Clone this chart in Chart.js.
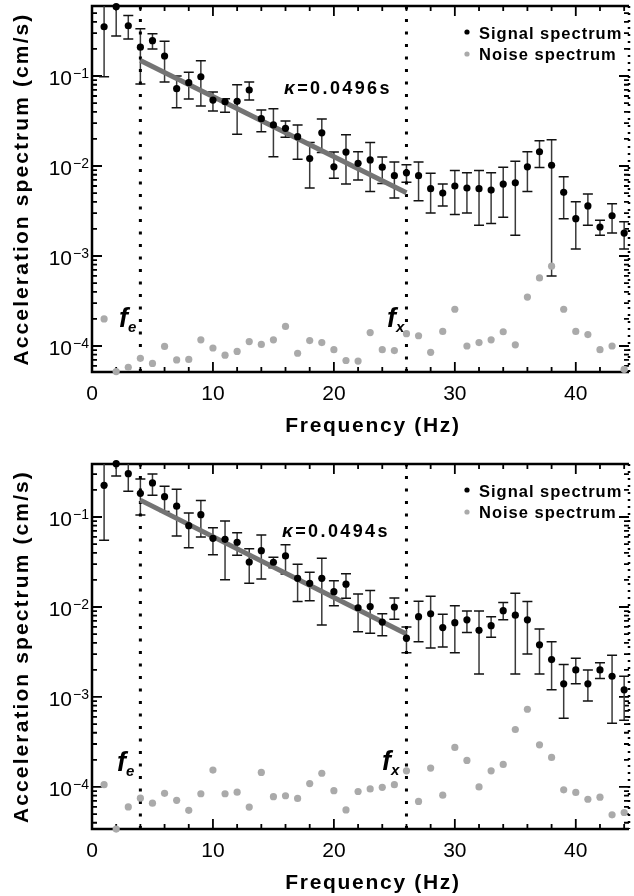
<!DOCTYPE html>
<html>
<head>
<meta charset="utf-8">
<script src="https://cdn.jsdelivr.net/npm/chart.js@4.4.1/dist/chart.umd.min.js"></script>
<style>
  body { margin: 0; background: #fff; }
  canvas { display: block; }
</style>
</head>
<body>
<canvas id="topChart" width="634" height="442"></canvas>
<canvas id="bottomChart" width="634" height="454"></canvas>
<script>
// frequencies (Hz)
const freqs = [1, 2, 3, 4, 5, 6, 7, 8, 9, 10, 11, 12, 13, 14, 15, 16, 17, 18, 19, 20, 21, 22,
  23, 24, 25, 26, 27, 28, 29, 30, 31, 32, 33, 34, 35, 36, 37, 38, 39, 40, 41, 42, 43, 44];

const xTicks = [0, 10, 20, 30, 40];
const yTicks = [1e-4, 1e-3, 1e-2, 1e-1];
const yTickExp = ['\u22124', '\u22123', '\u22122', '\u22121'];
const cutoffs = [4, 26];
const cutoffNames = ['e', 'x'];
const fitFreqs = [4, 26];

// upper panel
const topSignal = [0.353, 0.589, 0.362, 0.209, 0.247, 0.167, 0.0723, 0.0843, 0.0982, 0.0541, 0.0518,
  0.0524, 0.0699, 0.0336, 0.0286, 0.0262, 0.0212, 0.0121, 0.0234, 0.0098, 0.0143, 0.0107, 0.0117,
  0.0097, 0.0078, 0.0084, 0.0078, 0.0056, 0.0050, 0.0060, 0.0057, 0.0056, 0.0054, 0.0063, 0.0065,
  0.0098, 0.0144, 0.0102, 0.0051, 0.0026, 0.0036, 0.0021, 0.0028, 0.0018];
const topSignalHi = [1.5, 1.5, 0.472, 0.336, 0.295, 0.243, 0.1, 0.11, 0.148, 0.0664, 0.056, 0.08,
  0.0858, 0.0419, 0.0433, 0.0316, 0.0286, 0.0182, 0.0333, 0.0143, 0.0223, 0.0144, 0.0182, 0.0126,
  0.0111, 0.0103, 0.0111, 0.0083, 0.0063, 0.0089, 0.0084, 0.0089, 0.0084, 0.0097, 0.0113, 0.0144,
  0.0191, 0.0196, 0.0076, 0.0040, 0.0049, 0.0025, 0.0038, 0.0024];
const topSignalLo = [0.098, 0.278, 0.258, 0.0815, 0.2, 0.0858, 0.0445, 0.0555, 0.0464, 0.0408, 0.0395,
  0.0225, 0.0541, 0.024, 0.0127, 0.0209, 0.0119, 0.0057, 0.0141, 0.0073, 0.0063, 0.0070, 0.0052,
  0.0064, 0.0044, 0.0066, 0.0041, 0.0030, 0.0036, 0.0029, 0.0030, 0.0022, 0.0023, 0.0027, 0.0017,
  0.0052, 0.0096, 0.0006, 0.0026, 0.0012, 0.0022, 0.0017, 0.0018, 0.0012];
const topNoise = [2.0e-4, 5.2e-5, 5.8e-5, 7.3e-5, 6.4e-5, 9.9e-5, 7.0e-5, 7.1e-5, 1.17e-4, 9.5e-5,
  7.9e-5, 8.7e-5, 1.12e-4, 1.04e-4, 1.17e-4, 1.65e-4, 8.3e-5, 1.15e-4, 1.09e-4, 9.1e-5, 6.9e-5,
  6.8e-5, 1.41e-4, 9.1e-5, 8.9e-5, 1.37e-4, 1.30e-4, 8.5e-5, 1.45e-4, 2.56e-4, 1.0e-4, 1.09e-4,
  1.17e-4, 1.44e-4, 1.03e-4, 3.5e-4, 5.7e-4, 7.7e-4, 2.56e-4, 1.45e-4, 1.34e-4, 9.1e-5, 1.0e-4, 5.5e-5];
const topFit = [0.149, 0.00505];

// lower panel
const bottomSignal = [0.225, 0.391, 0.303, 0.183, 0.239, 0.168, 0.132, 0.080, 0.106, 0.058, 0.0565,
  0.0524, 0.0316, 0.0422, 0.0314, 0.0369, 0.0208, 0.0183, 0.0208, 0.0148, 0.0179, 0.0098, 0.0101,
  0.0068, 0.0100, 0.0045, 0.0078, 0.0084, 0.0059, 0.0067, 0.0072, 0.0055, 0.0062, 0.0091, 0.0081,
  0.0072, 0.0038, 0.0026, 0.0014, 0.0020, 0.0014, 0.0020, 0.0017, 0.0012];
const bottomSignalHi = [1.0, 1.0, 0.5, 0.264, 0.301, 0.219, 0.203, 0.111, 0.152, 0.076, 0.0903, 0.067,
  0.0445, 0.0631, 0.0357, 0.0492, 0.0298, 0.0243, 0.0348, 0.0196, 0.0234, 0.0139, 0.0152, 0.0084,
  0.0126, 0.0060, 0.0116, 0.0132, 0.0083, 0.0103, 0.0090, 0.0090, 0.0078, 0.0112, 0.0142, 0.0115,
  0.0057, 0.0041, 0.0023, 0.0027, 0.0020, 0.0024, 0.0029, 0.0017];
const bottomSignalLo = [0.0551, 0.286, 0.193, 0.105, 0.174, 0.115, 0.0615, 0.0456, 0.060, 0.0381,
  0.0201, 0.0375, 0.0183, 0.0205, 0.0273, 0.0233, 0.0115, 0.0117, 0.0063, 0.0103, 0.0125, 0.0053,
  0.0051, 0.0048, 0.0073, 0.0031, 0.0041, 0.0035, 0.0036, 0.0031, 0.0052, 0.0018, 0.0046, 0.0072,
  0.0018, 0.0030, 0.0018, 0.0012, 0.00058, 0.0014, 0.0009, 0.0016, 0.00051, 0.00055];
const bottomNoise = [1.06e-4, 3.4e-5, 6.0e-5, 7.5e-5, 6.6e-5, 8.5e-5, 7.1e-5, 5.5e-5, 8.4e-5, 1.54e-4,
  8.4e-5, 8.75e-5, 5.97e-5, 1.45e-4, 7.8e-5, 7.98e-5, 7.45e-5, 1.09e-4, 1.42e-4, 9.1e-5, 5.55e-5,
  8.9e-5, 9.5e-5, 9.9e-5, 1.06e-4, 1.51e-4, 6.9e-5, 1.62e-4, 8.1e-5, 2.75e-4, 1.97e-4, 1.0e-4,
  1.51e-4, 1.78e-4, 4.35e-4, 7.3e-4, 2.94e-4, 2.13e-4, 9.3e-5, 8.7e-5, 7.3e-5, 7.7e-5, 4.9e-5, 5.2e-5];
const bottomFit = [0.154, 0.0050];

const panels = [
  { id: 'topChart', signal: topSignal, hi: topSignalHi, lo: topSignalLo, noise: topNoise, fit: topFit,
    yMin: 5.14e-5, yMax: 0.6, padding: { left: 92, right: 5, top: 6, bottom: 70 },
    kappa: '0.0496s', kappaPos: [284, 94], fPos: [[119, 327], [387, 327]] },
  { id: 'bottomChart', signal: bottomSignal, hi: bottomSignalHi, lo: bottomSignalLo, noise: bottomNoise, fit: bottomFit,
    yMin: 3.41e-5, yMax: 0.388, padding: { left: 92, right: 5, top: 22, bottom: 67 },
    kappa: '0.0494s', kappaPos: [282, 95], fPos: [[117, 329], [382, 328]] }
];

const FONT = '"Liberation Sans", Arial, Helvetica, sans-serif';

function makeDecor(p) {
  return {
    id: 'decor',
    beforeDatasetsDraw(chart) {
      const { ctx, chartArea: a, scales: { x, y } } = chart;
      ctx.save();
      // frame
      ctx.strokeStyle = '#000';
      ctx.lineWidth = 2.5;
      ctx.beginPath();
      ctx.moveTo(a.right, a.top);
      ctx.lineTo(a.left, a.top);
      ctx.lineTo(a.left, a.bottom);
      ctx.lineTo(a.right, a.bottom);
      ctx.stroke();
      ctx.setLineDash([2, 5]);
      ctx.beginPath();
      ctx.moveTo(a.right, a.top);
      ctx.lineTo(a.right, a.bottom);
      ctx.stroke();
      ctx.setLineDash([]);

      // inward ticks
      ctx.lineWidth = 1.8;
      ctx.beginPath();
      for (let v = 0; v <= 44; v += 2) {
        const px = x.getPixelForValue(v);
        const len = v % 10 === 0 ? 10 : 5;
        ctx.moveTo(px, a.bottom); ctx.lineTo(px, a.bottom - len);
        ctx.moveTo(px, a.top); ctx.lineTo(px, a.top + len);
      }
      for (let d = -5; d <= 0; d++) {
        for (let m = 1; m <= 9; m++) {
          const v = m * Math.pow(10, d);
          if (v < p.yMin || v > p.yMax) continue;
          const py = y.getPixelForValue(v);
          const len = m === 1 ? 10 : 5;
          ctx.moveTo(a.left, py); ctx.lineTo(a.left + len, py);
          ctx.moveTo(a.right, py); ctx.lineTo(a.right - len, py);
        }
      }
      ctx.stroke();

      // error bars
      ctx.beginPath();
      ctx.rect(a.left, a.top, a.right - a.left, a.bottom - a.top);
      ctx.clip();
      ctx.lineWidth = 1.5;
      freqs.forEach((f, i) => {
        const px = x.getPixelForValue(f);
        const yh = y.getPixelForValue(p.hi[i]);
        const yl = y.getPixelForValue(p.lo[i]);
        ctx.strokeStyle = '#3a3a3a';
        ctx.beginPath();
        ctx.moveTo(px, yh); ctx.lineTo(px, yl);
        ctx.stroke();
        ctx.strokeStyle = '#111';
        ctx.beginPath();
        ctx.moveTo(px - 5, yh); ctx.lineTo(px + 5, yh);
        ctx.moveTo(px - 5, yl); ctx.lineTo(px + 5, yl);
        ctx.stroke();
      });
      ctx.restore();
    },
    afterDraw(chart) {
      const { ctx, chartArea: a, scales: { x, y } } = chart;
      ctx.save();
      ctx.fillStyle = '#000';

      // x tick labels
      ctx.font = '21px ' + FONT;
      ctx.textAlign = 'center';
      ctx.textBaseline = 'alphabetic';
      xTicks.forEach(v => ctx.fillText(String(v), x.getPixelForValue(v), a.bottom + 28));

      // y tick labels 10^n
      yTicks.forEach((v, i) => {
        const py = y.getPixelForValue(v);
        ctx.font = '21px ' + FONT;
        ctx.textAlign = 'right';
        ctx.fillText('10', 72, py + 9);
        ctx.font = '14px ' + FONT;
        ctx.textAlign = 'left';
        ctx.fillText(yTickExp[i], 73, py + 2);
      });

      // axis titles
      ctx.font = 'bold 21px ' + FONT;
      ctx.letterSpacing = '1.7px';
      ctx.textAlign = 'center';
      ctx.fillText('Frequency (Hz)', 373, a.bottom + 60);
      ctx.save();
      ctx.translate(28, (a.top + a.bottom) / 2);
      ctx.rotate(-Math.PI / 2);
      ctx.letterSpacing = '2.1px';
      ctx.fillText('Acceleration spectrum (cm/s)', 0, 0);
      ctx.restore();

      // legend
      ctx.letterSpacing = '1px';
      ctx.font = 'bold 16.5px ' + FONT;
      ctx.textAlign = 'left';
      const lx = 467;
      [['Signal spectrum', '#000', 26, 32.5], ['Noise spectrum', '#aaa', 48, 54]].forEach(([t, c, by, ty]) => {
        ctx.fillStyle = c;
        ctx.beginPath();
        ctx.arc(lx, a.top + by, 2.6, 0, Math.PI * 2);
        ctx.fill();
        ctx.fillStyle = '#000';
        ctx.fillText(t, lx + 12, a.top + ty);
      });

      // kappa
      ctx.letterSpacing = '2.4px';
      ctx.font = 'italic bold 19px ' + FONT;
      const [kx, ky] = p.kappaPos;
      ctx.fillText('\u03ba', kx, ky);
      const kw = ctx.measureText('\u03ba').width;
      ctx.font = 'bold 18px ' + FONT;
      ctx.fillText('=' + p.kappa, kx + kw, ky);

      // f_e, f_x
      ctx.letterSpacing = '0px';
      p.fPos.forEach(([fx, fy], i) => {
        ctx.font = 'italic bold 27px ' + FONT;
        ctx.fillText('f', fx, fy);
        ctx.font = 'italic bold 15px ' + FONT;
        ctx.fillText(cutoffNames[i], fx + 9, fy + 5);
      });
      ctx.restore();
    }
  };
}

function buildChart(p) {
  const pts = vals => freqs.map((f, i) => ({ x: f, y: vals[i] }));
  new Chart(document.getElementById(p.id), {
    type: 'scatter',
    data: {
      datasets: [
        { label: 'Signal spectrum', data: pts(p.signal), backgroundColor: '#000', borderWidth: 0,
          pointRadius: 3.6, clip: false },
        { label: 'Noise spectrum', data: pts(p.noise), backgroundColor: '#aaa', borderWidth: 0,
          pointRadius: 3.6, clip: false },
        { type: 'line', label: 'fit', data: fitFreqs.map((f, i) => ({ x: f, y: p.fit[i] })),
          borderColor: '#747474', borderWidth: 5, pointRadius: 0, borderCapStyle: 'butt' },
        ...cutoffs.map(c => ({
          type: 'line', label: 'cutoff', data: [{ x: c, y: p.yMin }, { x: c, y: p.yMax }],
          borderColor: '#000', borderWidth: 3, borderDash: [3, 9.5], pointRadius: 0
        }))
      ]
    },
    options: {
      responsive: false,
      animation: false,
      events: [],
      layout: { padding: p.padding },
      scales: {
        x: { type: 'linear', min: 0, max: 44.4, display: false },
        y: { type: 'logarithmic', min: p.yMin, max: p.yMax, display: false }
      },
      plugins: { legend: { display: false }, tooltip: { enabled: false } }
    },
    plugins: [makeDecor(p)]
  });
}

panels.forEach(buildChart);
</script>
</body>
</html>
